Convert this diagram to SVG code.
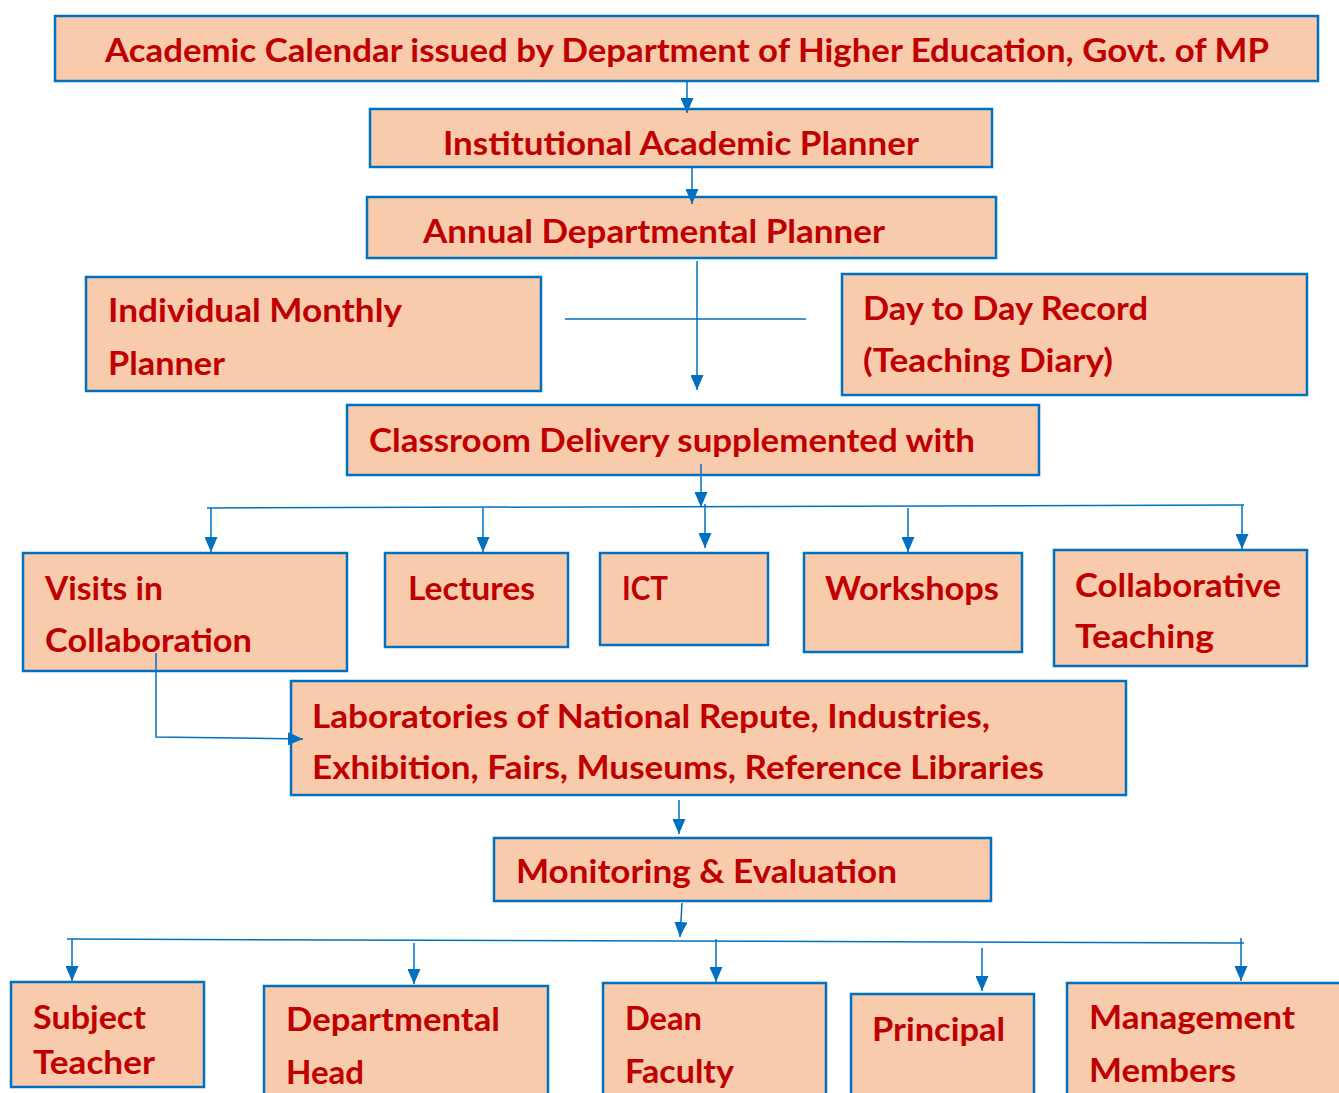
<svg xmlns="http://www.w3.org/2000/svg" width="1339" height="1093" viewBox="0 0 1339 1093">
<style>
.box{fill:#F8CBAD;stroke:#0070C0;stroke-width:2.5}
.t{font-family:Lato,"Open Sans","Liberation Sans",sans-serif;font-weight:bold;font-size:33px;fill:#C00000}
.c{fill:none;stroke:#0070C0;stroke-width:1.5}
</style>
<defs>
<marker id="ah" viewBox="0 0 15 13" refX="15" refY="6.5" markerWidth="15" markerHeight="13" markerUnits="userSpaceOnUse" orient="auto">
<path d="M0,0 L15,6.5 L0,13 z" fill="#0070C0"/>
</marker>
</defs>
<rect width="1339" height="1093" fill="#fff"/>

<g id="n-calendar">
<rect class="box" x="55" y="16" width="1263" height="65"/>
<text class="t" x="105" y="62" textLength="1164" lengthAdjust="spacingAndGlyphs">Academic Calendar issued by Department of Higher Education, Govt. of MP</text>
</g>
<g id="n-institutional">
<rect class="box" x="370" y="109" width="622" height="58"/>
<text class="t" x="443" y="155" textLength="476" lengthAdjust="spacingAndGlyphs">Institutional Academic Planner</text>
</g>
<g id="n-annual">
<rect class="box" x="367" y="197" width="629" height="61"/>
<text class="t" x="423" y="243" textLength="462" lengthAdjust="spacingAndGlyphs">Annual Departmental Planner</text>
</g>
<g id="n-monthly">
<rect class="box" x="86" y="277" width="455" height="114"/>
<text class="t" x="108" y="322" textLength="294" lengthAdjust="spacingAndGlyphs">Individual Monthly</text>
<text class="t" x="108" y="375" textLength="117" lengthAdjust="spacingAndGlyphs">Planner</text>
</g>
<g id="n-daytoday">
<rect class="box" x="842" y="274" width="465" height="121"/>
<text class="t" x="863" y="320" textLength="285" lengthAdjust="spacingAndGlyphs">Day to Day Record</text>
<text class="t" x="863" y="372" textLength="250" lengthAdjust="spacingAndGlyphs">(Teaching Diary)</text>
</g>
<g id="n-classroom">
<rect class="box" x="347" y="405" width="692" height="70"/>
<text class="t" x="369" y="452" textLength="606" lengthAdjust="spacingAndGlyphs">Classroom Delivery supplemented with</text>
</g>
<g id="n-visits">
<rect class="box" x="23" y="553" width="324" height="118"/>
<text class="t" x="45" y="600" textLength="118" lengthAdjust="spacingAndGlyphs">Visits in</text>
<text class="t" x="45" y="652" textLength="207" lengthAdjust="spacingAndGlyphs">Collaboration</text>
</g>
<g id="n-lectures">
<rect class="box" x="385" y="553" width="183" height="94"/>
<text class="t" x="408" y="600" textLength="127" lengthAdjust="spacingAndGlyphs">Lectures</text>
</g>
<g id="n-ict">
<rect class="box" x="600" y="553" width="168" height="92"/>
<text class="t" x="622" y="600" textLength="46" lengthAdjust="spacingAndGlyphs">ICT</text>
</g>
<g id="n-workshops">
<rect class="box" x="804" y="553" width="218" height="99"/>
<text class="t" x="825" y="600" textLength="174" lengthAdjust="spacingAndGlyphs">Workshops</text>
</g>
<g id="n-collab">
<rect class="box" x="1054" y="550" width="253" height="116"/>
<text class="t" x="1075" y="597" textLength="206" lengthAdjust="spacingAndGlyphs">Collaborative</text>
<text class="t" x="1075" y="648" textLength="139" lengthAdjust="spacingAndGlyphs">Teaching</text>
</g>
<g id="n-labs">
<rect class="box" x="291" y="681" width="835" height="114"/>
<text class="t" x="312" y="728" textLength="678" lengthAdjust="spacingAndGlyphs">Laboratories of National Repute, Industries,</text>
<text class="t" x="312" y="779" textLength="732" lengthAdjust="spacingAndGlyphs">Exhibition, Fairs, Museums, Reference Libraries</text>
</g>
<g id="n-monitoring">
<rect class="box" x="494" y="838" width="497" height="63"/>
<text class="t" x="516" y="883" textLength="381" lengthAdjust="spacingAndGlyphs">Monitoring &amp; Evaluation</text>
</g>
<g id="n-subject">
<rect class="box" x="11" y="982" width="193" height="105"/>
<text class="t" x="33" y="1029" textLength="113" lengthAdjust="spacingAndGlyphs">Subject</text>
<text class="t" x="33" y="1074" textLength="122" lengthAdjust="spacingAndGlyphs">Teacher</text>
</g>
<g id="n-depthead">
<rect class="box" x="264" y="986" width="284" height="120"/>
<text class="t" x="286" y="1031" textLength="214" lengthAdjust="spacingAndGlyphs">Departmental</text>
<text class="t" x="286" y="1084" textLength="78" lengthAdjust="spacingAndGlyphs">Head</text>
</g>
<g id="n-dean">
<rect class="box" x="603" y="983" width="223" height="120"/>
<text class="t" x="625" y="1030" textLength="77" lengthAdjust="spacingAndGlyphs">Dean</text>
<text class="t" x="625" y="1083" textLength="109" lengthAdjust="spacingAndGlyphs">Faculty</text>
</g>
<g id="n-principal">
<rect class="box" x="851" y="994" width="183" height="110"/>
<text class="t" x="872" y="1041" textLength="133" lengthAdjust="spacingAndGlyphs">Principal</text>
</g>
<g id="n-management">
<rect class="box" x="1067" y="983" width="290" height="120"/>
<text class="t" x="1089" y="1029" textLength="206" lengthAdjust="spacingAndGlyphs">Management</text>
<text class="t" x="1089" y="1082" textLength="147" lengthAdjust="spacingAndGlyphs">Members</text>
</g>

<g id="connectors">
<path class="c" d="M687,82 L687,113" marker-end="url(#ah)"/>
<path class="c" d="M692,168 L692,204" marker-end="url(#ah)"/>
<path class="c" d="M565,319 L806,319"/>
<path class="c" d="M697,261 L697,390" marker-end="url(#ah)"/>
<path class="c" d="M701,464 L701,507" marker-end="url(#ah)"/>
<path class="c" d="M207,508 L1244,505"/>
<path class="c" d="M211,508 L211,552" marker-end="url(#ah)"/>
<path class="c" d="M483,508 L483,552" marker-end="url(#ah)"/>
<path class="c" d="M705,504 L705,548" marker-end="url(#ah)"/>
<path class="c" d="M908,508 L908,552" marker-end="url(#ah)"/>
<path class="c" d="M1242,505 L1242,549" marker-end="url(#ah)"/>
<path class="c" d="M156,653 L156,737 L303,739" marker-end="url(#ah)"/>
<path class="c" d="M679,800 L679,834" marker-end="url(#ah)"/>
<path class="c" d="M682,903 L680,937" marker-end="url(#ah)"/>
<path class="c" d="M67,939 L1244,943"/>
<path class="c" d="M72,939 L72,981" marker-end="url(#ah)"/>
<path class="c" d="M414,943 L414,984" marker-end="url(#ah)"/>
<path class="c" d="M716,939 L716,982" marker-end="url(#ah)"/>
<path class="c" d="M982,948 L982,991" marker-end="url(#ah)"/>
<path class="c" d="M1241,938 L1241,981" marker-end="url(#ah)"/>
</g>
</svg>
